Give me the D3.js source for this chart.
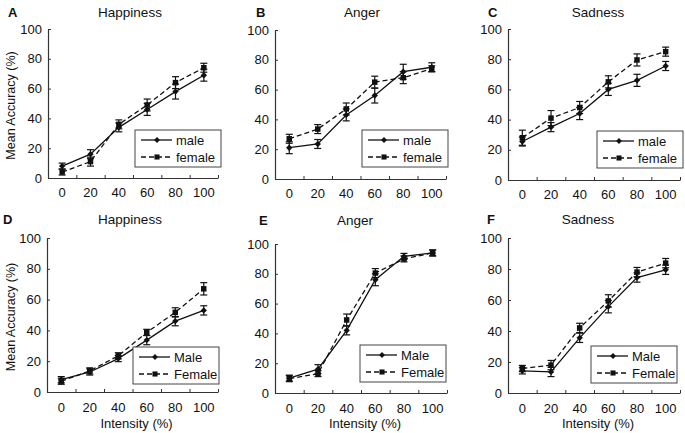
<!DOCTYPE html>
<html><head><meta charset="utf-8">
<script src="https://cdn.jsdelivr.net/npm/d3@7"></script>
<style>
body{margin:0;background:#fff;}
text{font-family:"Liberation Sans",Arial,sans-serif;fill:#111;}
</style></head>
<body><svg id="c" width="685" height="433"></svg>
<script>
const categories = ["0","20","40","60","80","100"];
const yTicks = [0,20,40,60,80,100];
const panelLetters = ["A","B","C","D","E","F"];
const panelTitles = ["Happiness","Anger","Sadness","Happiness","Anger","Sadness"];
const legendTop = ["male","male","male","Male","Male","Male"];
const legendBottom = ["female","female","female","Female","Female","Female"];

const maleA = [8,16,34,46,58,69];      const maleAErr = [2,3,3,4,5,4];
const femaleA = [4,11,36,49,64,74];    const femaleAErr = [2,3,3,4,4,3];
const maleB = [21,23.5,43,56,72,75];   const maleBErr = [4,3,4,5,5,3];
const femaleB = [27,33.5,47,65,68,74]; const femaleBErr = [3,3,4,4,4,2];
const maleC = [25.5,35,44,60,66,75.5]; const maleCErr = [3,3,4,4,4,3];
const femaleC = [28,41,48,65,79.5,85]; const femaleCErr = [5,5,4,4,4,3];
const maleD = [8,13,21.7,33.7,46,53];  const maleDErr = [2,2,2,3,3,3];
const femaleD = [7,13.7,23.5,38.7,51.7,67]; const femaleDErr = [2,2,2,2,3,4];
const maleE = [10,16,42,76,91.7,94];   const maleEErr = [2,3,3,4,2,2];
const femaleE = [9.6,13,49,80.5,90,94]; const femaleEErr = [2,2,4,3,2,2];
const maleF = [14.3,13.6,35.6,55.7,74.5,79.5]; const maleFErr = [2,3,3,4,3,3];
const femaleF = [15.8,18,42,59.4,78,83.8]; const femaleFErr = [2,3,3,4,3,3];

const maleSeries = [maleA,maleB,maleC,maleD,maleE,maleF];
const maleErrs = [maleAErr,maleBErr,maleCErr,maleDErr,maleEErr,maleFErr];
const femaleSeries = [femaleA,femaleB,femaleC,femaleD,femaleE,femaleF];
const femaleErrs = [femaleAErr,femaleBErr,femaleCErr,femaleDErr,femaleEErr,femaleFErr];

// layout (plot areas)
const boxes = [
  {x0:48,x1:218,y0:29,y1:178},
  {x0:275,x1:446,y0:30,y1:179},
  {x0:508,x1:680,y0:29,y1:180},
  {x0:47,x1:218,y0:238,y1:392},
  {x0:275,x1:447,y0:244,y1:393},
  {x0:508,x1:680,y0:238,y1:393}
];
const letterPos = [[8,17],[256,17],[488,17],[3,224],[259,225],[487,224]];
const titlePos = [[130,17],[362,17],[598,17],[130,224],[355,225],[588,224]];
const legendBox = [[135,130],[362,130],[597,131],[133,347],[360,345],[591,346]];

const svg = d3.select("#c");
const axisColor = "#333";
const diamondType = d3.symbolDiamond2 || d3.symbolDiamond;

boxes.forEach((b,i)=>{
  const g = svg.append("g");
  const x = d3.scaleBand().domain(categories).range([b.x0,b.x1]).padding(0);
  const xb = d3.scaleLinear().domain([0,categories.length]).range([b.x0,b.x1]);
  const y = d3.scaleLinear().domain([0,100]).range([b.y1,b.y0]);

  const ya = g.append("g").attr("transform",`translate(${b.x0},0)`)
    .call(d3.axisLeft(y).tickValues(yTicks).tickSizeInner(-3).tickSizeOuter(0).tickPadding(6));
  ya.selectAll("text").style("font-size","13px").attr("fill","#111");
  ya.select(".domain").attr("stroke",axisColor).attr("stroke-width",1.2);
  ya.selectAll(".tick line").attr("stroke",axisColor);

  const xa = g.append("g").attr("transform",`translate(0,${b.y1})`)
    .call(d3.axisBottom(x).tickSize(0).tickPadding(i>=3?11:10));
  xa.selectAll("text").style("font-size","13px").attr("fill","#111");
  xa.select(".domain").attr("stroke",axisColor).attr("stroke-width",1.2);
  const xt = g.append("g").attr("transform",`translate(0,${b.y1})`)
    .call(d3.axisBottom(xb).tickValues(d3.range(1,categories.length+1)).tickSizeInner(-3).tickSizeOuter(0).tickFormat(""));
  xt.select(".domain").remove();
  xt.selectAll(".tick line").attr("stroke",axisColor);

  const cx = d => x(d) + x.bandwidth()/2;

  const series = [
    {vals:femaleSeries[i],errs:femaleErrs[i],dash:"5,3",shape:d3.symbolSquare,size:30},
    {vals:maleSeries[i],errs:maleErrs[i],dash:null,shape:diamondType,size:26}
  ];
  series.forEach(s=>{
    const pts = categories.map((c,k)=>({c,v:s.vals[k],e:s.errs[k]}));
    const line = d3.line().x(p=>cx(p.c)).y(p=>y(p.v));
    g.append("path").datum(pts).attr("d",line).attr("fill","none")
      .attr("stroke","#111").attr("stroke-width",1.3)
      .attr("stroke-dasharray",s.dash);
    const eb = g.append("g").selectAll("g").data(pts).join("g");
    eb.append("line").attr("x1",p=>cx(p.c)).attr("x2",p=>cx(p.c))
      .attr("y1",p=>y(p.v-p.e)).attr("y2",p=>y(p.v+p.e)).attr("stroke","#111").attr("stroke-width",1.2);
    [1,-1].forEach(sg=>{
      eb.append("line").attr("x1",p=>cx(p.c)-3.5).attr("x2",p=>cx(p.c)+3.5)
        .attr("y1",p=>y(p.v+sg*p.e)).attr("y2",p=>y(p.v+sg*p.e)).attr("stroke","#111").attr("stroke-width",1.2);
    });
    g.append("g").selectAll("path").data(pts).join("path")
      .attr("d",d3.symbol().type(s.shape).size(s.size))
      .attr("transform",p=>`translate(${cx(p.c)},${y(p.v)})`)
      .attr("fill","#111");
  });

  const [lx,ly] = legendBox[i];
  const lg = g.append("g").attr("transform",`translate(${lx},${ly})`);
  lg.append("rect").attr("width",86).attr("height",37).attr("fill","#fff")
    .attr("stroke","#444").attr("stroke-width",1);
  const items = [
    {label:legendTop[i],dash:null,shape:diamondType,size:22,yy:10},
    {label:legendBottom[i],dash:"5,3",shape:d3.symbolSquare,size:26,yy:27}
  ];
  items.forEach(it=>{
    lg.append("line").attr("x1",6).attr("x2",37).attr("y1",it.yy).attr("y2",it.yy)
      .attr("stroke","#111").attr("stroke-width",1.3).attr("stroke-dasharray",it.dash);
    lg.append("path").attr("d",d3.symbol().type(it.shape).size(it.size))
      .attr("transform",`translate(22,${it.yy})`).attr("fill","#111");
    lg.append("text").attr("x",41).attr("y",it.yy+5).style("font-size","13px").text(it.label);
  });

  svg.append("text").attr("x",letterPos[i][0]).attr("y",letterPos[i][1])
    .style("font-size","13px").style("font-weight","bold").text(panelLetters[i]);
  svg.append("text").attr("x",titlePos[i][0]).attr("y",titlePos[i][1])
    .attr("text-anchor","middle").style("font-size","13.5px").text(panelTitles[i]);

  if(i%3===0){
    svg.append("text").attr("transform",`translate(15,${(b.y0+b.y1)/2+2}) rotate(-90)`)
      .attr("text-anchor","middle").style("font-size","12.5px").text("Mean Accuracy (%)");
  }
  if(i>=3){
    svg.append("text").attr("x",(b.x0+b.x1)/2+4).attr("y",428)
      .attr("text-anchor","middle").style("font-size","13px").text("Intensity (%)");
  }
});
</script></body></html>
